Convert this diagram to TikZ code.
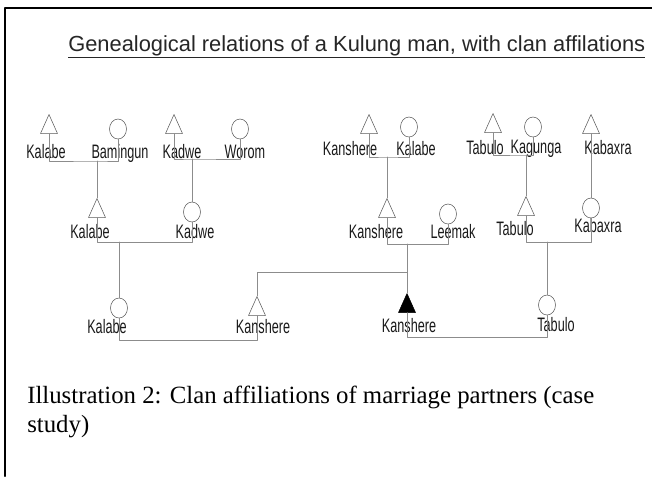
\documentclass[tikz,border=0pt]{standalone}
\usepackage{fontspec}
\setmainfont{Liberation Serif}
\newfontfamily\lblfont[FakeStretch=0.65]{Liberation Sans}
\newfontfamily\titlefont{Liberation Sans}
\usetikzlibrary{shapes.geometric}

\begin{document}
\begin{tikzpicture}[x=0.75pt, y=-0.75pt, line join=round, line cap=round,
  male/.style={isosceles triangle, isosceles triangle stretches, shape border rotate=90,
    minimum width=12.75pt, minimum height=14.25pt, inner sep=0pt, draw=black!65},
  female/.style={ellipse, minimum width=12.75pt, minimum height=15pt, inner sep=0pt, draw=black!65},
  ego/.style={male, fill=black, draw=black},
  link/.style={draw=black!45, line width=0.6pt},
  lbl/.style={anchor=base, inner sep=0pt, font=\lblfont\fontsize{14.6}{16}\selectfont, text=black!90}]
  \useasboundingbox (0,0) rectangle (652,476);
  \draw[line width=1.5pt] (5,476) -- (5,8) -- (652,8);
  \node[anchor=base west, inner sep=0pt, font=\titlefont\fontsize{16.4}{18}\selectfont, text=black!85] (title) at (68,51)
    {\underline{Genealogical relations of a Kulung man, with clan affilations}};
  % grandparents
  \node[male] (m1) at (49,128) {};
  \node[female] (f1) at (118,129) {};
  \node[male] (m2) at (174,128) {};
  \node[female] (f2) at (240,129) {};
  \node[male] (m3) at (369,128) {};
  \node[female] (f3) at (409,127) {};
  \node[male] (m4) at (493,127) {};
  \node[female] (f4) at (533,127) {};
  \node[male] (m5) at (591,128) {};
  % parents
  \node[male] (s1) at (97,212) {};
  \node[female] (s2) at (192,212) {};
  \node[male] (s3) at (387,212) {};
  \node[female] (s4) at (448,214) {};
  \node[male] (s5) at (526,210) {};
  \node[female] (s6) at (591,208) {};
  % ego and spouses
  \node[female] (g1) at (119,308) {};
  \node[male] (g2) at (257,310) {};
  \node[ego] (g3) at (407,307) {};
  \node[female] (g4) at (547,305) {};
  % labels
  \node[lbl] (lm1) at (46,158) {Kalabe};
  \node[lbl] (lf1) at (120,158) {Bamingun};
  \node[lbl] (lm2) at (182,158) {Kadwe};
  \node[lbl] (lf2) at (245,158) {Worom};
  \node[lbl] (lm3) at (350,155) {Kanshere};
  \node[lbl] (lf3) at (416,155) {Kalabe};
  \node[lbl] (lm4) at (485,154) {Tabulo};
  \node[lbl] (lf4) at (536,153) {Kagunga};
  \node[lbl] (lm5) at (608,154) {Kabaxra};
  \node[lbl] (ls1) at (90,238) {Kalabe};
  \node[lbl] (ls2) at (195,238) {Kadwe};
  \node[lbl] (ls3) at (376,238) {Kanshere};
  \node[lbl] (ls4) at (453,238) {Leemak};
  \node[lbl] (ls5) at (515,235) {Tabulo};
  \node[lbl] (ls6) at (598,232) {Kabaxra};
  \node[lbl] (lg1) at (107,333) {Kalabe};
  \node[lbl] (lg2) at (263,333) {Kanshere};
  \node[lbl] (lg3) at (409,332) {Kanshere};
  \node[lbl] (lg4) at (556,331) {Tabulo};
  % marriages and descent
  \coordinate (u1) at (97,161);
  \coordinate (u2) at (192,159);
  \coordinate (u3) at (387,157);
  \coordinate (u4) at (526,155);
  \coordinate (v1) at (119,242);
  \coordinate (v2) at (407,244);
  \coordinate (v3) at (547,242);
  \coordinate (w1) at (188,340);
  \coordinate (w2) at (477,337);
  \coordinate (sib) at (407,272);
  \draw[link] (m1) |- (u1) -| (f1);
  \draw[link] (m2) |- (u2) -| (f2);
  \draw[link] (m3) |- (u3) -| (f3);
  \draw[link] (m4) |- (u4) -| (f4);
  \draw[link] (u1) -- (s1);
  \draw[link] (u2) -- (s2);
  \draw[link] (u3) -- (s3);
  \draw[link] (u4) -- (s5);
  \draw[link] (m5) -- (s6);
  \draw[link] (s1) |- (v1) -| (s2);
  \draw[link] (s3) |- (v2) -| (s4);
  \draw[link] (s5) |- (v3) -| (s6);
  \draw[link] (v1) -- (g1);
  \draw[link] (v2) -- (g3);
  \draw[link] (sib) -| (g2);
  \draw[link] (v3) -- (g4);
  \draw[link] (g1) |- (w1) -| (g2);
  \draw[link] (g3) |- (w2) -| (g4);
  % caption
  \node[anchor=base west, inner sep=0pt, align=left, font=\fontsize{18.6}{21.75}\selectfont] (caption) at (27,432)
    {Illustration 2: Clan affiliations of marriage partners (case\\study)};
\end{tikzpicture}
\end{document}
